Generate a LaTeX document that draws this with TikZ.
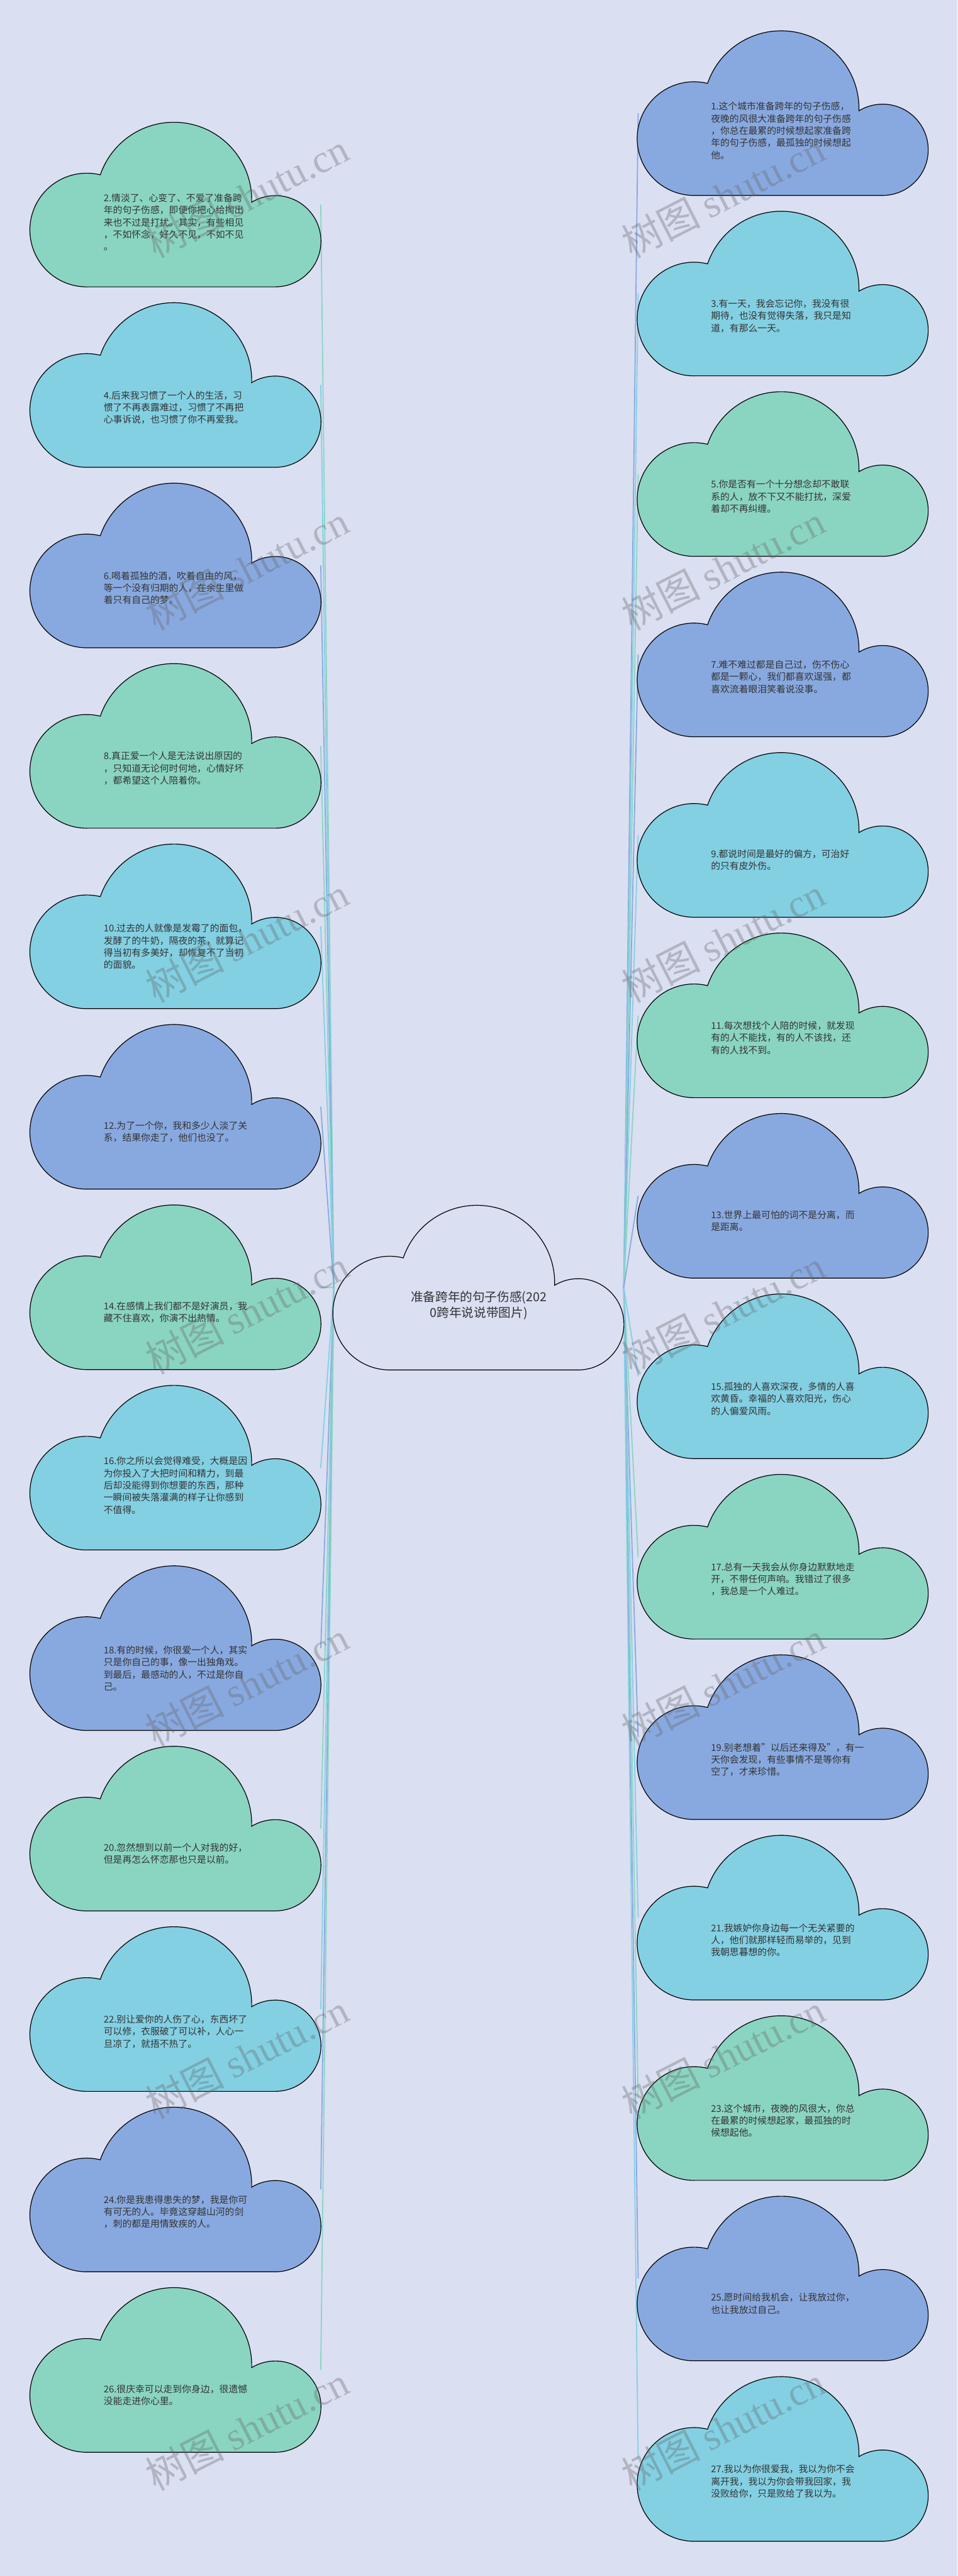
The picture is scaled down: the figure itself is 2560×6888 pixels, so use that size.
\documentclass[tikz,border=0pt]{standalone}
\usepackage{fontspec}
\usepackage{tikz}
\usetikzlibrary{positioning}
\setmainfont{Noto Sans CJK SC}
\newfontfamily\wmfont{Liberation Serif}
\definecolor{pagebg}{RGB}{218,223,242}
\definecolor{mint}{RGB}{138,213,194}
\definecolor{sky}{RGB}{131,208,227}
\definecolor{periwinkle}{RGB}{136,169,224}
\definecolor{inkgray}{RGB}{51,51,51}
\newcommand{\cloudoutline}[2]{%
  \filldraw[cloudline, fill=#2, shift={(#1.center)}]
    (-238,-220) -- (266,-220)
    arc[start angle=-90, end angle=121.2, radius=122]
    arc[start angle=-1.6, end angle=161.1, radius=208]
    arc[start angle=76.2, end angle=270, radius=152] -- cycle;}

\begin{document}
\begin{tikzpicture}[
    x=0.1mm, y=0.1mm,
    cloudbox/.style={minimum width=77.5mm, minimum height=44mm, inner sep=0pt, outer sep=0pt},
    cloudline/.style={draw=black, line width=0.2mm},
    link/.style={line width=0.3mm},
    quote/.style={font=\fontsize{7.1pt}{9.25pt}\selectfont, text=inkgray, align=left, inner sep=0pt, anchor=west},
    rootlabel/.style={font=\fontsize{9.4pt}{12.2pt}\selectfont, text=inkgray, align=center, inner sep=0pt},
    wmark/.style={font=\fontsize{30pt}{30pt}\selectfont, text=black!60, text opacity=0.35, rotate=27, inner sep=0pt}
]
\fill[pagebg] (0,0) rectangle (2560,-6888);
\useasboundingbox (0,0) rectangle (2560,-6888);

\node[cloudbox] (root) at (1280,-3443) {};
\node[cloudbox] (q2)  at (470,-547)    {};
\node[cloudbox] (q4)  at (470,-1029.5) {};
\node[cloudbox] (q6)  at (470,-1512)   {};
\node[cloudbox] (q8)  at (470,-1994.5) {};
\node[cloudbox] (q10) at (470,-2477)   {};
\node[cloudbox] (q12) at (470,-2959.5) {};
\node[cloudbox] (q14) at (470,-3442)   {};
\node[cloudbox] (q16) at (470,-3924.5) {};
\node[cloudbox] (q18) at (470,-4407)   {};
\node[cloudbox] (q20) at (470,-4889.5) {};
\node[cloudbox] (q22) at (470,-5372)   {};
\node[cloudbox] (q24) at (470,-5854.5) {};
\node[cloudbox] (q26) at (470,-6337)   {};
\node[cloudbox] (q1)  at (2093.5,-302.5)  {};
\node[cloudbox] (q3)  at (2093.5,-785)    {};
\node[cloudbox] (q5)  at (2093.5,-1267.5) {};
\node[cloudbox] (q7)  at (2093.5,-1750)   {};
\node[cloudbox] (q9)  at (2093.5,-2232.5) {};
\node[cloudbox] (q11) at (2093.5,-2715)   {};
\node[cloudbox] (q13) at (2093.5,-3197.5) {};
\node[cloudbox] (q15) at (2093.5,-3680)   {};
\node[cloudbox] (q17) at (2093.5,-4162.5) {};
\node[cloudbox] (q19) at (2093.5,-4645)   {};
\node[cloudbox] (q21) at (2093.5,-5127.5) {};
\node[cloudbox] (q23) at (2093.5,-5610)   {};
\node[cloudbox] (q25) at (2093.5,-6092.5) {};
\node[cloudbox] (q27) at (2093.5,-6575)   {};

\draw[link, mint]       (root.west) -- (q2.east);
\draw[link, sky]        (root.west) -- (q4.east);
\draw[link, periwinkle] (root.west) -- (q6.east);
\draw[link, mint]       (root.west) -- (q8.east);
\draw[link, sky]        (root.west) -- (q10.east);
\draw[link, periwinkle] (root.west) -- (q12.east);
\draw[link, mint]       (root.west) -- (q14.east);
\draw[link, sky]        (root.west) -- (q16.east);
\draw[link, periwinkle] (root.west) -- (q18.east);
\draw[link, mint]       (root.west) -- (q20.east);
\draw[link, sky]        (root.west) -- (q22.east);
\draw[link, periwinkle] (root.west) -- (q24.east);
\draw[link, mint]       (root.west) -- (q26.east);
\draw[link, periwinkle] (root.east) -- (q1.west);
\draw[link, sky]        (root.east) -- (q3.west);
\draw[link, mint]       (root.east) -- (q5.west);
\draw[link, periwinkle] (root.east) -- (q7.west);
\draw[link, sky]        (root.east) -- (q9.west);
\draw[link, mint]       (root.east) -- (q11.west);
\draw[link, periwinkle] (root.east) -- (q13.west);
\draw[link, sky]        (root.east) -- (q15.west);
\draw[link, mint]       (root.east) -- (q17.west);
\draw[link, periwinkle] (root.east) -- (q19.west);
\draw[link, sky]        (root.east) -- (q21.west);
\draw[link, mint]       (root.east) -- (q23.west);
\draw[link, periwinkle] (root.east) -- (q25.west);
\draw[link, sky]        (root.east) -- (q27.west);

\cloudoutline{root}{pagebg}
\cloudoutline{q2}{mint}
\cloudoutline{q4}{sky}
\cloudoutline{q6}{periwinkle}
\cloudoutline{q8}{mint}
\cloudoutline{q10}{sky}
\cloudoutline{q12}{periwinkle}
\cloudoutline{q14}{mint}
\cloudoutline{q16}{sky}
\cloudoutline{q18}{periwinkle}
\cloudoutline{q20}{mint}
\cloudoutline{q22}{sky}
\cloudoutline{q24}{periwinkle}
\cloudoutline{q26}{mint}
\cloudoutline{q1}{periwinkle}
\cloudoutline{q3}{sky}
\cloudoutline{q5}{mint}
\cloudoutline{q7}{periwinkle}
\cloudoutline{q9}{sky}
\cloudoutline{q11}{mint}
\cloudoutline{q13}{periwinkle}
\cloudoutline{q15}{sky}
\cloudoutline{q17}{mint}
\cloudoutline{q19}{periwinkle}
\cloudoutline{q21}{sky}
\cloudoutline{q23}{mint}
\cloudoutline{q25}{periwinkle}
\cloudoutline{q27}{sky}

\node[rootlabel] (rt) at ([shift={(0,-47)}]root.center) {准备跨年的句子伤感(202\\0跨年说说带图片)};

\node[quote] (t2) at ([shift={(194,-47)}]q2.west) {2.情淡了、心变了、不爱了准备跨\\年的句子伤感，即便你把心给掏出\\来也不过是打扰。其实，有些相见\\，不如怀念，好久不见，不如不见\\。};
\node[quote] (t4) at ([shift={(194,-60)}]q4.west) {4.后来我习惯了一个人的生活，习\\惯了不再表露难过，习惯了不再把\\心事诉说，也习惯了你不再爱我。};
\node[quote] (t6) at ([shift={(194,-60)}]q6.west) {6.喝着孤独的酒，吹着自由的风，\\等一个没有归期的人，在余生里做\\着只有自己的梦。};
\node[quote] (t8) at ([shift={(194,-60)}]q8.west) {8.真正爱一个人是无法说出原因的\\，只知道无论何时何地，心情好坏\\，都希望这个人陪着你。};
\node[quote] (t10) at ([shift={(194,-54)}]q10.west) {10.过去的人就像是发霉了的面包，\\发酵了的牛奶，隔夜的茶，就算记\\得当初有多美好，却恢复不了当初\\的面貌。};
\node[quote] (t12) at ([shift={(194,-67)}]q12.west) {12.为了一个你，我和多少人淡了关\\系，结果你走了，他们也没了。};
\node[quote] (t14) at ([shift={(194,-67)}]q14.west) {14.在感情上我们都不是好演员，我\\藏不住喜欢，你演不出热情。};
\node[quote] (t16) at ([shift={(194,-47)}]q16.west) {16.你之所以会觉得难受，大概是因\\为你投入了大把时间和精力，到最\\后却没能得到你想要的东西，那种\\一瞬间被失落灌满的样子让你感到\\不值得。};
\node[quote] (t18) at ([shift={(194,-54)}]q18.west) {18.有的时候，你很爱一个人，其实\\只是你自己的事，像一出独角戏。\\到最后，最感动的人，不过是你自\\己。};
\node[quote] (t20) at ([shift={(194,-67)}]q20.west) {20.忽然想到以前一个人对我的好，\\但是再怎么怀恋那也只是以前。};
\node[quote] (t22) at ([shift={(194,-60)}]q22.west) {22.别让爱你的人伤了心，东西坏了\\可以修，衣服破了可以补，人心一\\旦凉了，就捂不热了。};
\node[quote] (t24) at ([shift={(194,-60)}]q24.west) {24.你是我患得患失的梦，我是你可\\有可无的人。毕竟这穿越山河的剑\\，刺的都是用情致疾的人。};
\node[quote] (t26) at ([shift={(194,-67)}]q26.west) {26.很庆幸可以走到你身边，很遗憾\\没能走进你心里。};

\node[quote] (t1) at ([shift={(194,-47)}]q1.west) {1.这个城市准备跨年的句子伤感，\\夜晚的风很大准备跨年的句子伤感\\，你总在最累的时候想起家准备跨\\年的句子伤感，最孤独的时候想起\\他。};
\node[quote] (t3) at ([shift={(194,-60)}]q3.west) {3.有一天，我会忘记你，我没有很\\期待，也没有觉得失落，我只是知\\道，有那么一天。};
\node[quote] (t5) at ([shift={(194,-60)}]q5.west) {5.你是否有一个十分想念却不敢联\\系的人，放不下又不能打扰，深爱\\着却不再纠缠。};
\node[quote] (t7) at ([shift={(194,-60)}]q7.west) {7.难不难过都是自己过，伤不伤心\\都是一颗心，我们都喜欢逞强，都\\喜欢流着眼泪笑着说没事。};
\node[quote] (t9) at ([shift={(194,-67)}]q9.west) {9.都说时间是最好的偏方，可治好\\的只有皮外伤。};
\node[quote] (t11) at ([shift={(194,-60)}]q11.west) {11.每次想找个人陪的时候，就发现\\有的人不能找，有的人不该找，还\\有的人找不到。};
\node[quote] (t13) at ([shift={(194,-67)}]q13.west) {13.世界上最可怕的词不是分离，而\\是距离。};
\node[quote] (t15) at ([shift={(194,-60)}]q15.west) {15.孤独的人喜欢深夜，多情的人喜\\欢黄昏。幸福的人喜欢阳光，伤心\\的人偏爱风雨。};
\node[quote] (t17) at ([shift={(194,-60)}]q17.west) {17.总有一天我会从你身边默默地走\\开，不带任何声响。我错过了很多\\，我总是一个人难过。};
\node[quote] (t19) at ([shift={(194,-60)}]q19.west) {19.别老想着"以后还来得及"，有一\\天你会发现，有些事情不是等你有\\空了，才来珍惜。};
\node[quote] (t21) at ([shift={(194,-60)}]q21.west) {21.我嫉妒你身边每一个无关紧要的\\人，他们就那样轻而易举的，见到\\我朝思暮想的你。};
\node[quote] (t23) at ([shift={(194,-60)}]q23.west) {23.这个城市，夜晚的风很大，你总\\在最累的时候想起家，最孤独的时\\候想起他。};
\node[quote] (t25) at ([shift={(194,-67)}]q25.west) {25.愿时间给我机会，让我放过你，\\也让我放过自己。};
\node[quote] (t27) at ([shift={(194,-60)}]q27.west) {27.我以为你很爱我，我以为你不会\\离开我，我以为你会带我回家，我\\没败给你，只是败给了我以为。};

\node[wmark] (w1)  at (660,-523)  {树图 {\wmfont shutu.cn}};
\node[wmark] (w2)  at (660,-1518) {树图 {\wmfont shutu.cn}};
\node[wmark] (w3)  at (660,-2513) {树图 {\wmfont shutu.cn}};
\node[wmark] (w4)  at (660,-3508) {树图 {\wmfont shutu.cn}};
\node[wmark] (w5)  at (660,-4503) {树图 {\wmfont shutu.cn}};
\node[wmark] (w6)  at (660,-5498) {树图 {\wmfont shutu.cn}};
\node[wmark] (w7)  at (660,-6493) {树图 {\wmfont shutu.cn}};
\node[wmark] (w8)  at (1933,-523)  {树图 {\wmfont shutu.cn}};
\node[wmark] (w9)  at (1933,-1518) {树图 {\wmfont shutu.cn}};
\node[wmark] (w10) at (1933,-2513) {树图 {\wmfont shutu.cn}};
\node[wmark] (w11) at (1933,-3508) {树图 {\wmfont shutu.cn}};
\node[wmark] (w12) at (1933,-4503) {树图 {\wmfont shutu.cn}};
\node[wmark] (w13) at (1933,-5498) {树图 {\wmfont shutu.cn}};
\node[wmark] (w14) at (1933,-6493) {树图 {\wmfont shutu.cn}};
\end{tikzpicture}
\end{document}
